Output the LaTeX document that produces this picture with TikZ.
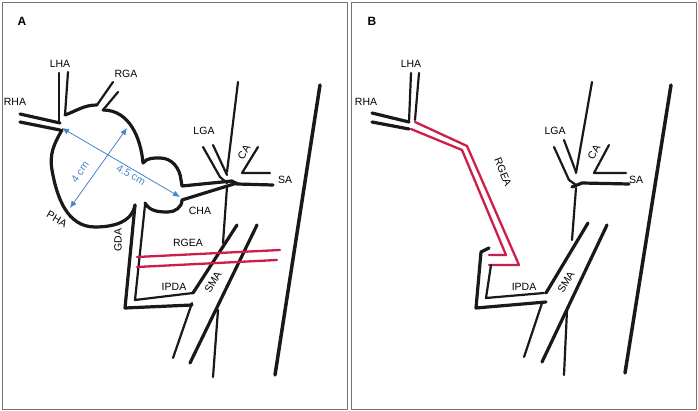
\documentclass[tikz,border=0pt]{standalone}
\usepackage{fontspec}
\setmainfont{Liberation Sans}
\usetikzlibrary{arrows.meta}
\definecolor{rgeared}{RGB}{205,30,75}
\definecolor{measblue}{RGB}{70,130,200}
\begin{document}
\begin{tikzpicture}[x=1pt,y=-1pt,line cap=round,line join=round,
  vessel/.style={draw=black!90,line width=3.2pt},
  thin vessel/.style={draw=black!90,line width=2.2pt},
  graft/.style={draw=rgeared,line width=2.3pt},
  meas/.style={draw=measblue,line width=0.8pt,{Latex[length=7pt,width=6pt]}-{Latex[length=7pt,width=6pt]}},
  lbl/.style={font=\fontsize{10.5}{12}\selectfont,inner sep=1pt},
  panel/.style={draw=black!55,line width=0.9pt}]
  \useasboundingbox (0,0) rectangle (698,411);

  % frames
  \draw[panel] (2,2) rectangle (347,409);
  \draw[panel] (351,2) rectangle (696,409);
  \node[font=\bfseries\large] (pA) at (22,21) {A};
  \node[font=\bfseries\large] (pB) at (372,21) {B};

  % ---- panel A ----
  \draw[vessel] (20,114) -- (60,123);
  \draw[vessel] (20,122) -- (60,130);
  \draw[thin vessel] (59,73) -- (59,122);
  \draw[thin vessel] (68,72) -- (65,115);
  \draw[thin vessel] (97,105) -- (113,82);
  \draw[thin vessel] (103,110) -- (118,92);
  % aneurysm
  \draw[vessel] (65,115) to[out=20,in=180] (97,105);
  \draw[vessel] (103,110) to[out=0,in=95] (143,163)
    to[out=50,in=180] (160,158) to[out=0,in=95] (181,180) -- (182,186) -- (232,181);
  \draw[vessel] (182,200) -- (237,183);
  \draw[vessel] (182,200) to[out=-90,in=0] (168,212) to[out=180,in=-60] (145,203);
  \draw[vessel] (135,205) to[out=-100,in=0] (95,227) to[out=180,in=-80] (52,170)
    to[out=100,in=-120] (62,130);
  \draw[meas] (62,128) -- (180,197);
  \draw[meas] (70,208) -- (127,128);
  \node[lbl,text=measblue,rotate=55] (d4) at (80,172) {4 cm};
  \node[lbl,text=measblue,rotate=-30] (d45) at (131,175) {4.5 cm};
  % celiac trunk and branches
  \draw[thin vessel] (238,82) -- (227,172);
  \draw[thin vessel] (203,147) -- (220,177) -- (227,183);
  \draw[thin vessel] (213,145) -- (227,175);
  \draw[thin vessel] (258,147) -- (242,173) -- (270,173);
  \draw[vessel] (232,181) -- (237,184) -- (273,185);
  \draw[thin vessel] (227,187) -- (223,243);
  % SMA
  \draw[vessel] (237,225) -- (193,293);
  \draw[vessel] (257,225) -- (190,363);
  \draw[thin vessel] (218,310) -- (213,377);
  \draw[thin vessel] (192,303) -- (173,358);
  % GDA / IPDA
  \draw[vessel] (135,205) -- (125,308) -- (192,305);
  \draw[thin vessel] (145,205) -- (135,300) -- (193,293);
  % aorta
  \draw[vessel,line width=3.5pt] (320,85) -- (275,375);
  % RGEA
  \draw[graft] (137,257) -- (280,250);
  \draw[graft] (137,267) -- (277,260);
  \node[lbl] (lhaA) at (60,64) {LHA};
  \node[lbl] (rgaA) at (126,74) {RGA};
  \node[lbl] (rhaA) at (15,102) {RHA};
  \node[lbl] (lgaA) at (204,131) {LGA};
  \node[lbl,rotate=60] (caA) at (244,152) {CA};
  \node[lbl] (saA) at (285,180) {SA};
  \node[lbl] (chaA) at (200,211) {CHA};
  \node[lbl,rotate=-30] (phaA) at (57,219) {PHA};
  \node[lbl,rotate=90] (gdaA) at (118,240) {GDA};
  \node[lbl] (rgeaA) at (188,243) {RGEA};
  \node[lbl] (ipdaA) at (174,287) {IPDA};
  \node[lbl,rotate=60] (smaA) at (213,282) {SMA};

  % ---- panel B ----
  \draw[vessel] (372,113) -- (409,122);
  \draw[vessel] (372,122) -- (409,129);
  \draw[thin vessel] (411,73) -- (409,122);
  \draw[thin vessel] (419,73) -- (415,120);
  \draw[graft] (415,122) -- (467,146) -- (519,265) -- (489,265);
  \draw[graft] (411,129) -- (462,150) -- (506,255) -- (489,255);
  \draw[vessel] (489,248) -- (481,252) -- (476,308) -- (546,302);
  \draw[thin vessel] (491,265) -- (486,298) -- (544,293);
  \draw[thin vessel] (592,82) -- (576,173);
  \draw[thin vessel] (554,147) -- (569,180) -- (576,185);
  \draw[thin vessel] (564,140) -- (576,172);
  \draw[thin vessel] (609,145) -- (594,173) -- (626,173);
  \draw[vessel] (572,187) -- (582,183) -- (629,184);
  \draw[thin vessel] (576,188) -- (572,240);
  \draw[vessel] (588,223) -- (546,293);
  \draw[vessel] (607,225) -- (542,362);
  \draw[thin vessel] (567,310) -- (564,375);
  \draw[thin vessel] (542,303) -- (524,357);
  \draw[vessel,line width=3.5pt] (671,85) -- (625,373);
  \node[lbl] (lhaB) at (411,64) {LHA};
  \node[lbl] (rhaB) at (366,102) {RHA};
  \node[lbl,rotate=-68] (rgeaB) at (503,172) {RGEA};
  \node[lbl] (lgaB) at (555,131) {LGA};
  \node[lbl,rotate=60] (caB) at (594,152) {CA};
  \node[lbl] (saB) at (636,180) {SA};
  \node[lbl] (ipdaB) at (524,287) {IPDA};
  \node[lbl,rotate=60] (smaB) at (566,282) {SMA};
\end{tikzpicture}
\end{document}
